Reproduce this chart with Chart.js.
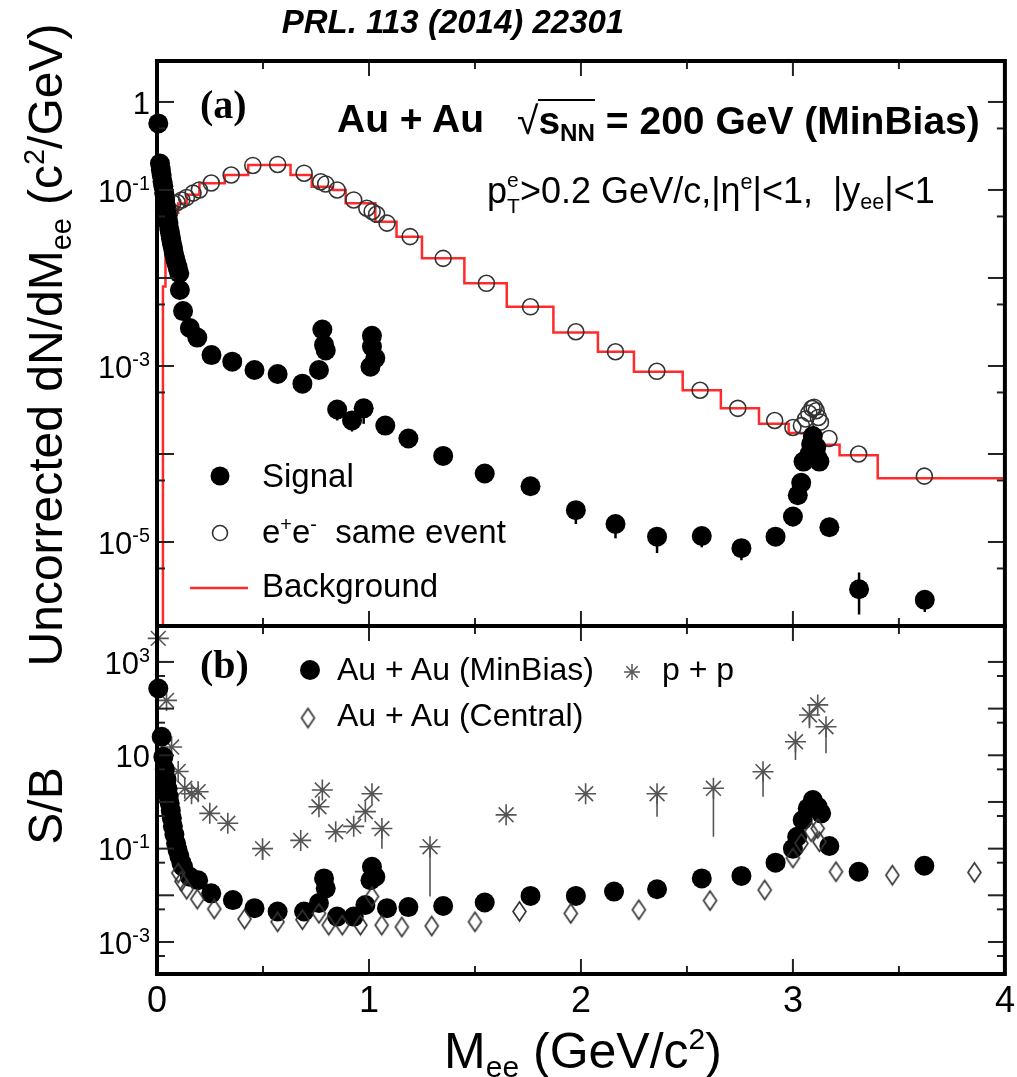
<!DOCTYPE html>
<html><head><meta charset="utf-8">
<script src="https://cdn.jsdelivr.net/npm/chart.js@4.4.1/dist/chart.umd.min.js"></script>
<style>
body{margin:0;background:#fff}
#wrap{position:relative;width:1017px;height:1077px;overflow:hidden;background:#fff}
canvas{position:absolute;left:0;top:0}
.t{position:absolute;white-space:nowrap;line-height:1;font-family:"Liberation Sans",Arial,Helvetica,sans-serif;color:#000}
.sp{font-size:0.6em;position:relative;top:-0.62em}
.sb{font-size:0.6em;position:relative;top:0.32em}
</style></head><body>
<div id="wrap"><canvas id="c" width="1017" height="1077"></canvas></div>
<script>
// ---------------- DATA ----------------
// Panel (a): Signal (filled circles)
const sigX = [0.006,0.014,0.018,0.022,0.026,0.030,0.034,0.038,0.042,0.046,0.050,0.054,0.058,0.062,0.066,0.070,0.075,0.080,0.086,0.092,0.098,0.105,0.108,0.123,0.155,0.19,0.257,0.355,0.46,0.569,0.686,0.764,0.78,0.788,0.796,0.85,0.92,0.975,1.007,1.014,1.014,1.03,1.077,1.186,1.35,1.546,1.762,1.976,2.163,2.359,2.57,2.757,2.918,3.0,3.023,3.039,3.05,3.078,3.086,3.094,3.11,3.117,3.125,3.172,3.312,3.622];
const sigY = [0.57,0.20,0.17,0.148,0.125,0.11,0.092,0.077,0.064,0.054,0.047,0.042,0.036,0.032,0.028,0.025,0.022,0.019,0.0165,0.0147,0.013,0.0113,0.0073,0.0042,0.0027,0.0021,0.00133,0.00112,9.0e-4,8.1e-4,6.3e-4,9.0e-4,2.6e-3,1.74e-3,1.5e-3,3.2e-4,2.4e-4,3.3e-4,9.8e-4,2.2e-3,1.66e-3,1.23e-3,2.1e-4,1.5e-4,9.5e-5,6.0e-5,4.3e-5,2.3e-5,1.6e-5,1.15e-5,1.17e-5,8.5e-6,1.15e-5,1.95e-5,3.4e-5,4.7e-5,8.2e-5,1.0e-4,1.3e-4,1.6e-4,1.2e-4,8.9e-5,8.2e-5,1.47e-5,2.9e-6,2.2e-6];
// Signal error bars (x, low end, high end)
const sigErrX  = [0.85,0.92,0.975,1.976,2.163,2.359,2.57,2.757,3.0,3.312,3.622];
const sigErrLo = [2.4e-4,1.8e-4,2.2e-4,1.6e-5,1.1e-5,7.5e-6,8.7e-6,6.2e-6,1.5e-5,1.5e-6,1.6e-6];
const sigErrHi = [3.2e-4,2.4e-4,3.3e-4,2.3e-5,1.6e-5,1.15e-5,1.17e-5,8.5e-6,1.95e-5,4.5e-6,2.2e-6];

// Panel (a): e+e- same event (open circles)
const seX = [0.06,0.075,0.095,0.117,0.139,0.17,0.2,0.256,0.35,0.452,0.569,0.694,0.772,0.796,0.85,0.928,0.99,1.015,1.036,1.085,1.194,1.35,1.554,1.762,1.976,2.163,2.358,2.562,2.74,2.914,3.0,3.04,3.06,3.075,3.09,3.1,3.11,3.12,3.13,3.17,3.31,3.62];
const seY = [0.055,0.071,0.072,0.077,0.082,0.092,0.1,0.12,0.148,0.19,0.195,0.155,0.124,0.117,0.1,0.077,0.062,0.057,0.053,0.042,0.0295,0.0167,0.0087,0.0047,0.00245,0.00145,8.7e-4,5.3e-4,3.3e-4,2.4e-4,2.0e-4,2.1e-4,2.5e-4,2.9e-4,3.3e-4,3.4e-4,3.1e-4,2.6e-4,2.3e-4,1.5e-4,1.0e-4,5.6e-5];

// Panel (a): Background histogram (bin left edges and contents)
const bgX = [0,0.028,0.04,0.07,0.1,0.14,0.2,0.32,0.43,0.63,0.73,0.83,0.89,1.03,1.13,1.25,1.45,1.65,1.87,2.08,2.25,2.48,2.66,2.84,2.98,3.1,3.22,3.4,4.0];
const bgY = [1.11e-6,0.008,0.021,0.055,0.07,0.088,0.119,0.148,0.192,0.148,0.109,0.1,0.0706,0.0436,0.0294,0.0167,0.0087,0.0047,0.0024,0.00145,8.6e-4,5.3e-4,3.3e-4,2.2e-4,1.73e-4,1.27e-4,9.7e-5,5.3e-5,5.3e-5];

// Panel (b): S/B Au+Au MinBias (filled circles)
const mbX = [0.006,0.022,0.03,0.037,0.045,0.05,0.055,0.06,0.065,0.07,0.075,0.082,0.09,0.097,0.105,0.115,0.123,0.155,0.194,0.256,0.358,0.46,0.569,0.694,0.764,0.788,0.796,0.85,0.928,0.983,1.007,1.014,1.03,1.085,1.186,1.35,1.546,1.762,1.976,2.156,2.359,2.57,2.757,2.918,3.0,3.02,3.046,3.07,3.094,3.117,3.133,3.172,3.31,3.62];
const mbY = [270,25,9.3,5.0,3.0,1.9,1.3,0.94,0.65,0.45,0.3,0.2,0.13,0.094,0.07,0.05,0.041,0.025,0.021,0.011,0.0079,0.0053,0.0045,0.0045,0.0068,0.023,0.0141,0.0035,0.0035,0.0062,0.021,0.041,0.025,0.0053,0.0056,0.0059,0.007,0.0097,0.0097,0.012,0.0135,0.023,0.026,0.05,0.10,0.18,0.41,0.73,1.1,0.79,0.57,0.114,0.032,0.043];

// Panel (b): S/B Au+Au Central (open diamonds)
const cenX = [0.1,0.115,0.14,0.19,0.27,0.413,0.569,0.686,0.764,0.81,0.874,0.96,1.014,1.06,1.155,1.296,1.5,1.71,1.952,2.273,2.609,2.867,3.0,3.04,3.086,3.117,3.125,3.203,3.469,3.856];
const cenY = [0.03,0.02,0.0135,0.0083,0.0051,0.0031,0.0027,0.003,0.0041,0.0023,0.0023,0.0023,0.0094,0.0023,0.0021,0.0022,0.0027,0.0045,0.0041,0.0049,0.0077,0.013,0.063,0.13,0.23,0.27,0.14,0.032,0.027,0.031];

// Panel (b): S/B p+p (stars)
const ppX = [0.006,0.045,0.069,0.1,0.131,0.163,0.194,0.249,0.334,0.498,0.678,0.764,0.78,0.843,0.928,0.983,1.014,1.061,1.288,1.647,2.022,2.359,2.625,2.859,3.012,3.078,3.117,3.156];
const ppY = [3200,150,15,4.5,1.96,1.5,1.66,0.57,0.35,0.10,0.15,0.79,1.8,0.23,0.30,0.62,1.5,0.27,0.11,0.53,1.5,1.5,1.96,4.45,19.5,73,120,41];
const ppErrX  = [0.498,1.061,1.288,2.359,2.625,2.859,3.012,3.078,3.156];
const ppErrLo = [0.057,0.10,0.0094,0.48,0.18,1.3,7.9,38,11];
const ppErrHi = [0.10,0.27,0.11,1.5,1.96,4.45,19.5,73,41];

// Axis ranges and ticks
const xTickMajor = [0,1,2,3,4];
const xTickMinor = [0.5,1.5,2.5,3.5];
const topMajor = [1,1e-1,1e-2,1e-3,1e-4,1e-5];
const topMinor = [0.5,5e-2,5e-3,5e-4,5e-5,5e-6];
const topTickVals = [1,1e-1,1e-3,1e-5];
const topTickText = ['1','10^-1','10^-3','10^-5'];
const botMajor = [1e3,1e2,10,1,1e-1,1e-2,1e-3];
const botMinor = [500,50,5,0.5,5e-2,5e-3,5e-4];
const botTickVals = [1e3,10,1e-1,1e-3];
const botTickText = ['10^3','10','10^-1','10^-3'];

// ---------------- HELPERS ----------------
const pts = (xs, ys) => xs.map((x, i) => ({x: x, y: ys[i]}));

function makeDiamond(w, h, lw, color) {
  const c = document.createElement('canvas');
  c.width = Math.ceil(w + lw * 2); c.height = Math.ceil(h + lw * 2);
  const g = c.getContext('2d');
  g.strokeStyle = color; g.lineWidth = lw;
  const cx = c.width / 2, cy = c.height / 2;
  g.beginPath(); g.moveTo(cx, cy - h / 2); g.lineTo(cx + w / 2, cy); g.lineTo(cx, cy + h / 2); g.lineTo(cx - w / 2, cy); g.closePath(); g.stroke();
  return c;
}
const diamondImg = makeDiamond(13, 19, 1.6, '#333');

const errPlugin = {
  id: 'errbars',
  beforeDatasetsDraw(chart) {
    const ctx = chart.ctx, xs = chart.scales.x;
    const sets = [
      {ax: 'y', X: sigErrX, L: sigErrLo, H: sigErrHi, c: '#000', w: 2.5},
      {ax: 'y2', X: ppErrX, L: ppErrLo, H: ppErrHi, c: '#555', w: 1.6}
    ];
    ctx.save();
    sets.forEach(s => {
      const ys = chart.scales[s.ax];
      ctx.strokeStyle = s.c; ctx.lineWidth = s.w;
      s.X.forEach((x, i) => {
        const px = xs.getPixelForValue(x);
        ctx.beginPath();
        ctx.moveTo(px, ys.getPixelForValue(s.H[i]));
        ctx.lineTo(px, ys.getPixelForValue(s.L[i]));
        ctx.stroke();
      });
    });
    ctx.restore();
  }
};

const framePlugin = {
  id: 'frame',
  afterDatasetsDraw(chart) {
    const ctx = chart.ctx, xs = chart.scales.x;
    const panels = [
      {s: chart.scales.y, major: topMajor, minor: topMinor},
      {s: chart.scales.y2, major: botMajor, minor: botMinor}
    ];
    const line = (a, b, c, d) => { ctx.beginPath(); ctx.moveTo(a, b); ctx.lineTo(c, d); ctx.stroke(); };
    ctx.save();
    panels.forEach(p => {
      const L = xs.left, R = xs.right, T = p.s.top, B = p.s.bottom;
      ctx.strokeStyle = '#222'; ctx.lineWidth = 2;
      p.major.forEach(v => { const y = p.s.getPixelForValue(v); if (y < T || y > B) return; line(L, y, L + 17, y); line(R, y, R - 17, y); });
      p.minor.forEach(v => { const y = p.s.getPixelForValue(v); if (y < T || y > B) return; line(L, y, L + 8, y); line(R, y, R - 8, y); });
      xTickMajor.forEach(v => { const x = xs.getPixelForValue(v); line(x, T, x, T + 15); line(x, B, x, B - 15); });
      xTickMinor.forEach(v => { const x = xs.getPixelForValue(v); line(x, T, x, T + 8); line(x, B, x, B - 8); });
      ctx.strokeStyle = '#000'; ctx.lineWidth = 4;
      ctx.strokeRect(L, T, R - L, B - T);
    });
    ctx.restore();
  }
};

const legendPlugin = {
  id: 'legendMarks',
  afterDraw(chart) {
    const ctx = chart.ctx;
    ctx.save();
    // panel (a)
    ctx.fillStyle = '#000';
    ctx.beginPath(); ctx.arc(220, 476, 9.5, 0, Math.PI * 2); ctx.fill();
    ctx.strokeStyle = '#333'; ctx.lineWidth = 1.6;
    ctx.beginPath(); ctx.arc(220, 533, 7.5, 0, Math.PI * 2); ctx.stroke();
    ctx.strokeStyle = '#ff2a2a'; ctx.lineWidth = 2.5;
    ctx.beginPath(); ctx.moveTo(190, 588); ctx.lineTo(248, 588); ctx.stroke();
    // panel (b)
    ctx.fillStyle = '#000';
    ctx.beginPath(); ctx.arc(310, 670, 10, 0, Math.PI * 2); ctx.fill();
    ctx.drawImage(diamondImg, 308 - diamondImg.width / 2, 718 - diamondImg.height / 2);
    ctx.strokeStyle = '#555'; ctx.lineWidth = 1.5;
    for (let k = 0; k < 4; k++) {
      const a = k * Math.PI / 4, r = 8;
      ctx.beginPath(); ctx.moveTo(632 - r * Math.cos(a), 672 - r * Math.sin(a)); ctx.lineTo(632 + r * Math.cos(a), 672 + r * Math.sin(a)); ctx.stroke();
    }
    ctx.restore();
  }
};

// ---------------- CHART ----------------
const chart = new Chart(document.getElementById('c'), {
  type: 'scatter',
  data: {
    datasets: [
      {label: 'Signal', yAxisID: 'y', data: pts(sigX, sigY), pointRadius: 10, backgroundColor: '#000', borderWidth: 0, order: 1, clip: false},
      {label: 'e+e- same event', yAxisID: 'y', data: pts(seX, seY), pointRadius: 8, backgroundColor: 'rgba(0,0,0,0)', borderColor: '#333', borderWidth: 1.6, order: 2, clip: false},
      {label: 'Background', yAxisID: 'y', data: pts(bgX, bgY), showLine: true, stepped: 'before', pointRadius: 0, borderColor: '#ff2a2a', borderWidth: 2.5, order: 3},
      {label: 'Au + Au (Central)', yAxisID: 'y2', data: pts(cenX, cenY), pointStyle: diamondImg, pointRadius: 10, order: 4, clip: false},
      {label: 'Au + Au (MinBias)', yAxisID: 'y2', data: pts(mbX, mbY), pointRadius: 10, backgroundColor: '#000', borderWidth: 0, order: 5, clip: false},
      {label: 'p + p', yAxisID: 'y2', data: pts(ppX, ppY), pointStyle: 'star', pointRadius: 10.5, borderColor: '#555', borderWidth: 1.6, backgroundColor: 'rgba(0,0,0,0)', order: 6, clip: false}
    ]
  },
  options: {
    responsive: false, animation: false, events: [],
    layout: {padding: {top: 61, right: 5, left: 0, bottom: 0}},
    plugins: {legend: {display: false}, tooltip: {enabled: false}},
    scales: {
      x: {type: 'linear', min: 0, max: 4, position: 'bottom',
          grid: {display: false, drawTicks: false}, border: {display: false},
          ticks: {stepSize: 1, padding: 6, maxRotation: 0, color: '#000', font: {family: 'Liberation Sans', size: 36}},
          afterFit: s => { s.height = 103; s.paddingLeft = 0; s.paddingRight = 0; }},
      y2: {type: 'logarithmic', min: 2.06e-4, max: 5890, position: 'left', stack: 'panels', stackWeight: 348,
          grid: {display: false}, border: {display: false}, ticks: {display: false},
          afterFit: s => { s.width = 157; }},
      y: {type: 'logarithmic', min: 1.11e-6, max: 2.92, position: 'left', stack: 'panels', stackWeight: 565,
          grid: {display: false}, border: {display: false}, ticks: {display: false},
          afterFit: s => { s.width = 157; }}
    }
  },
  plugins: [errPlugin, framePlugin, legendPlugin]
});

// ---------------- TEXT ----------------
const wrap = document.getElementById('wrap');
function addText(html, x, baseline, size, o) {
  o = o || {};
  const d = document.createElement('div');
  d.className = 't';
  d.innerHTML = html;
  d.style.fontSize = size + 'px';
  if (o.family) d.style.fontFamily = o.family;
  if (o.weight) d.style.fontWeight = o.weight;
  if (o.italic) d.style.fontStyle = 'italic';
  if (o.color) d.style.color = o.color;
  const k = o.serif ? 0.8375 : 0.8465;
  d.style.top = (baseline - k * size) + 'px';
  if (o.align === 'right') d.style.right = (1017 - x) + 'px';
  else if (o.align === 'center') { d.style.left = x + 'px'; d.style.transform = 'translateX(-50%)'; }
  else d.style.left = x + 'px';
  wrap.appendChild(d);
  return d;
}
function addRot(html, cx, cy, size) {
  const d = document.createElement('div');
  d.className = 't';
  d.innerHTML = html;
  d.style.fontSize = size + 'px';
  d.style.left = cx + 'px'; d.style.top = cy + 'px';
  d.style.transform = 'translate(-50%,-50%) rotate(-90deg)';
  wrap.appendChild(d);
}
const supify = s => s.replace(/\^(.+)$/, '<span class="sp" style="font-size:0.64em;top:-0.6em">$1</span>');

// tick labels placed with the scales
topTickVals.forEach((v, i) => addText(supify(topTickText[i]), 150, chart.scales.y.getPixelForValue(v) + 12, 31, {align: 'right'}));
botTickVals.forEach((v, i) => addText(supify(botTickText[i]), 150, chart.scales.y2.getPixelForValue(v) + 12, 31, {align: 'right'}));

addText('PRL. 113 (2014) 22301', 453, 33, 33, {align: 'center', weight: 'bold', italic: true});
addRot('Uncorrected dN/dM<span class="sb">ee</span> (c<span class="sp">2</span>/GeV)', 46, 345, 48);
addRot('S/B', 46, 806, 48);
addText('M<span class="sb">ee</span> (GeV/c<span class="sp">2</span>)', 583, 1068, 50, {align: 'center'});

addText('(a)', 200, 118, 40, {family: '"Liberation Serif","Times New Roman",serif', weight: 'bold', serif: true});
addText('Au + Au', 337, 132, 39, {weight: 'bold'});
addText('<span style="font-weight:normal">&#8730;</span><span style="display:inline-block;border-top:2px solid #000;line-height:1">s<span class="sb" style="font-size:0.62em;top:0.3em">NN</span></span> = 200 GeV (MinBias)', 517, 132, 39, {weight: 'bold'});
addText('p<span style="display:inline-block;position:relative;width:13px;height:10px"><span style="position:absolute;left:0;top:-24px;font-size:21px">e</span><span style="position:absolute;left:0;top:2px;font-size:21px">T</span></span>&gt;0.2 GeV/c,|&#951;<span class="sp">e</span>|&lt;1,&nbsp;&nbsp;|y<span class="sb">ee</span>|&lt;1', 487, 203, 36);

addText('Signal', 262, 487, 33);
addText('e<span class="sp">+</span>e<span class="sp">-</span>&nbsp;&nbsp;same event', 262, 543, 33);
addText('Background', 262, 597, 33);

addText('(b)', 200, 678, 40, {family: '"Liberation Serif","Times New Roman",serif', weight: 'bold', serif: true});
addText('Au + Au (MinBias)', 337, 680, 32);
addText('p + p', 662, 680, 32);
addText('Au + Au (Central)', 337, 726, 32);
</script>
</body></html>
